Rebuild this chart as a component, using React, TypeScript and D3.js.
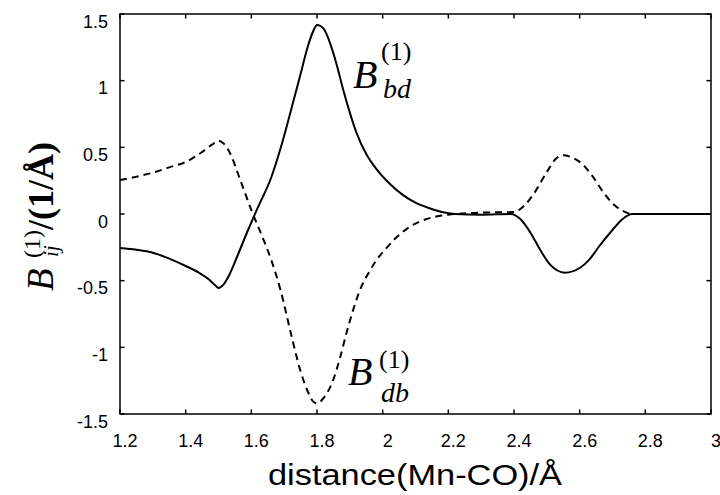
import React from "react";
import * as d3 from "d3";

const xTicks = [1.2, 1.4, 1.6, 1.8, 2, 2.2, 2.4, 2.6, 2.8, 3];
const xTickLabels = ["1.2", "1.4", "1.6", "1.8", "2", "2.2", "2.4", "2.6", "2.8", "3"];
const yTicks = [-1.5, -1, -0.5, 0, 0.5, 1, 1.5];
const yTickLabels = ["-1.5", "-1", "-0.5", "0", "0.5", "1", "1.5"];

const bdX = [1.2, 1.25, 1.3, 1.35, 1.4, 1.44, 1.47, 1.49, 1.5, 1.515, 1.53, 1.56, 1.59, 1.62, 1.66, 1.69, 1.72, 1.75, 1.77, 1.79, 1.8, 1.82, 1.84, 1.86, 1.88, 1.9, 1.92, 1.95, 1.98, 2.02, 2.06, 2.1, 2.14, 2.18, 2.22, 2.3, 2.39, 2.42, 2.45, 2.48, 2.51, 2.555, 2.6, 2.63, 2.66, 2.7, 2.73, 2.76, 3.0];
const bdY = [-0.255, -0.268, -0.29, -0.335, -0.39, -0.44, -0.49, -0.535, -0.555, -0.53, -0.47, -0.3, -0.12, 0.05, 0.27, 0.5, 0.77, 1.05, 1.24, 1.38, 1.418, 1.39, 1.28, 1.12, 0.93, 0.76, 0.61, 0.45, 0.34, 0.23, 0.145, 0.085, 0.045, 0.015, 0.0, -0.005, 0.0, -0.04, -0.14, -0.27, -0.38, -0.44, -0.405, -0.34, -0.24, -0.12, -0.04, 0.0, 0.0];

const dbX = [1.2, 1.25, 1.3, 1.35, 1.4, 1.45, 1.48, 1.5, 1.515, 1.53, 1.57, 1.6, 1.63, 1.66, 1.69, 1.72, 1.75, 1.77, 1.79, 1.8, 1.82, 1.85, 1.87, 1.89, 1.91, 1.93, 1.96, 1.98, 2.01, 2.04, 2.08, 2.12, 2.16, 2.2, 2.3, 2.4, 2.43, 2.46, 2.5, 2.53, 2.55, 2.58, 2.61, 2.64, 2.67, 2.7, 2.73, 2.76, 3.0];
const dbY = [0.255, 0.28, 0.31, 0.35, 0.39, 0.465, 0.52, 0.55, 0.53, 0.48, 0.23, 0.03, -0.15, -0.34, -0.58, -0.89, -1.18, -1.32, -1.41, -1.42, -1.38, -1.24, -1.08, -0.89, -0.72, -0.575, -0.43, -0.35, -0.26, -0.18, -0.1, -0.05, -0.02, -0.005, 0.01, 0.015, 0.06, 0.15, 0.315, 0.42, 0.44, 0.42, 0.37, 0.28, 0.17, 0.08, 0.025, 0.0, 0.0];

const L = 120, R = 711, T = 14, B = 414;

export default function App() {
  const x = d3.scaleLinear().domain([1.2, 3]).range([L, R]);
  const y = d3.scaleLinear().domain([-1.5, 1.5]).range([B, T]);
  const line = d3
    .line<[number, number]>()
    .x((d) => x(d[0]))
    .y((d) => y(d[1]))
    .curve(d3.curveMonotoneX);
  const bd = bdX.map((v, i) => [v, bdY[i]] as [number, number]);
  const db = dbX.map((v, i) => [v, dbY[i]] as [number, number]);
  const sans = "'Liberation Sans', Arial, sans-serif";
  const serif = "'Liberation Serif', 'Times New Roman', serif";
  const tk = 4.5;
  return (
    <svg width={720} height={495} style={{ position: "absolute", left: 0, top: 0, background: "#fff" }}>
      <rect x={0} y={0} width={720} height={495} fill="#fff" />
      <path d={line(db) || ""} fill="none" stroke="#000" strokeWidth={2} strokeDasharray="7,5" />
      <path d={line(bd) || ""} fill="none" stroke="#000" strokeWidth={2} />
      {xTicks.map((t, i) => (
        <g key={"x" + i}>
          <line x1={x(t)} x2={x(t)} y1={B} y2={B - tk} stroke="#000" strokeWidth={1.5} />
          <line x1={x(t)} x2={x(t)} y1={T} y2={T + tk} stroke="#000" strokeWidth={1.5} />
          <text x={x(t) + 5} y={447} textAnchor="middle" fontFamily={sans} fontSize={18} fill="#000">
            {xTickLabels[i]}
          </text>
        </g>
      ))}
      {yTicks.map((t, i) => (
        <g key={"y" + i}>
          <line x1={L} x2={L + tk} y1={y(t)} y2={y(t)} stroke="#000" strokeWidth={1.5} />
          <line x1={R} x2={R - tk} y1={y(t)} y2={y(t)} stroke="#000" strokeWidth={1.5} />
          <text x={108} y={y(t) + 13.5} textAnchor="end" fontFamily={sans} fontSize={18} fill="#000">
            {yTickLabels[i]}
          </text>
        </g>
      ))}
      <rect x={L} y={T} width={R - L} height={B - T} fill="none" stroke="#000" strokeWidth={1.5} />
      <text x={268} y={485} fontFamily={sans} fontSize={29} fill="#000" textLength={294} lengthAdjust="spacingAndGlyphs">
        distance(Mn-CO)/Å
      </text>
      <g transform="translate(53,291) rotate(-90)" fontFamily={serif} fill="#000">
        <text x={0} y={0} fontSize={37} fontStyle="italic">B</text>
        <text x={33} y={-13} fontSize={24}>(1)</text>
        <text x={34} y={5} fontSize={21} fontStyle="italic">ij</text>
        <text x={61} y={0} fontSize={36} fontWeight="bold">/(1/Å)</text>
      </g>
      <g fontFamily={serif} fill="#000">
        <text x={353} y={88} fontSize={40} fontStyle="italic">B</text>
        <text x={381} y={60} fontSize={26}>(1)</text>
        <text x={383} y={98} fontSize={28} fontStyle="italic">bd</text>
        <text x={348} y={385} fontSize={40} fontStyle="italic">B</text>
        <text x={379} y={368} fontSize={26}>(1)</text>
        <text x={381} y={402} fontSize={28} fontStyle="italic">db</text>
      </g>
    </svg>
  );
}
